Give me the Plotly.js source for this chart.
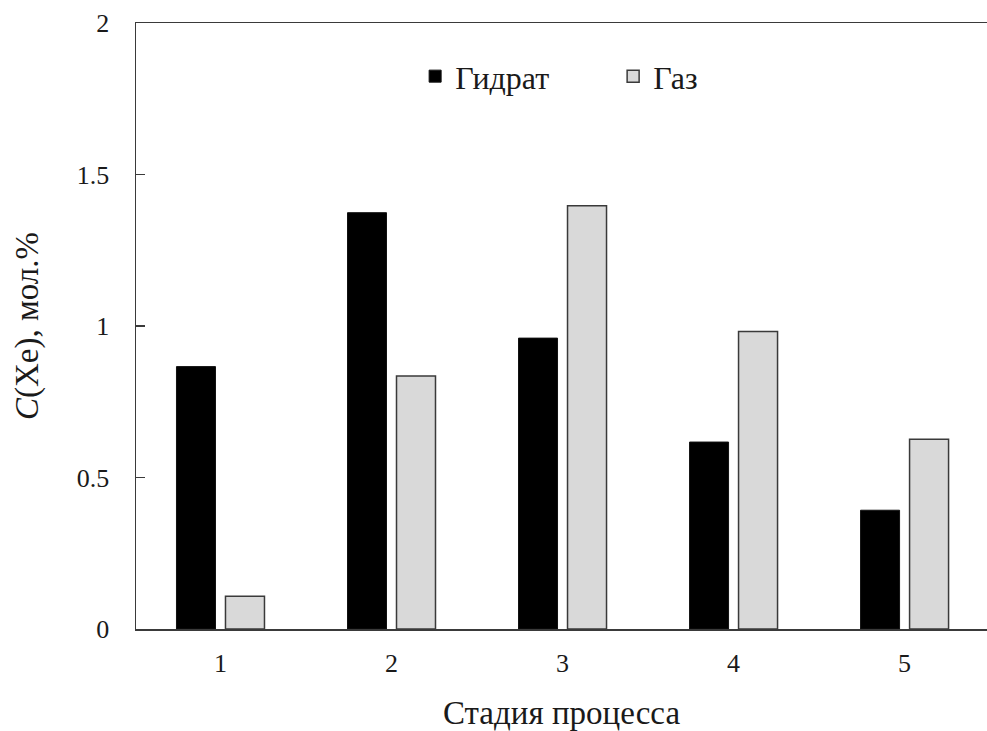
<!DOCTYPE html>
<html>
<head>
<meta charset="utf-8">
<script src="https://cdn.plot.ly/plotly-3.0.1.min.js"></script>
<style>html,body{margin:0;padding:0;background:#fff;overflow:hidden}</style>
</head>
<body>
<div id="chart" style="width:987px;height:731px"></div>
<script>
const categories = ["1", "2", "3", "4", "5"];
const hydrate = [0.866, 1.374, 0.960, 0.617, 0.392];
const gas = [0.108, 0.835, 1.397, 0.982, 0.626];
const seriesNames = ["Гидрат", "Газ"];
const yTicks = [0, 0.5, 1, 1.5, 2];
const yTickText = ["0", "0.5", "1", "1.5", "2"];
const xTitle = "Стадия процесса";
const yTitle = "<i>C</i>(Xe), мол.%";

const font = "Liberation Serif";
const data = [
  {type: "bar", x: categories, y: hydrate, name: seriesNames[0],
   marker: {color: "#000000", line: {color: "#111111", width: 1}}},
  {type: "bar", x: categories, y: gas, name: seriesNames[1],
   marker: {color: "#d9d9d9", line: {color: "#3a3a3a", width: 1.5}}}
];
const layout = {
  width: 987, height: 731,
  margin: {l: 136, r: 0, t: 23, b: 102},
  paper_bgcolor: "#fff", plot_bgcolor: "#fff",
  font: {family: font, color: "#1a1a1a", size: 26},
  barmode: "group", bargap: 0.427, bargroupgap: 0.204,
  showlegend: true,
  legend: {orientation: "h", x: 0.328, xanchor: "left", y: 0.912, yanchor: "middle",
           font: {family: font, size: 32, color: "#1a1a1a"}, bgcolor: "rgba(0,0,0,0)",
           traceorder: "normal", entrywidth: 153},
  xaxis: {type: "category", range: [-0.494, 4.482], showline: true, mirror: true,
          linecolor: "#3a3a3a", linewidth: 1.5, showgrid: false, zeroline: false,
          ticks: "", ticklabelstandoff: 10, tickfont: {family: font, size: 26},
          title: {text: xTitle, font: {family: font, size: 33}, standoff: 24}},
  yaxis: {range: [0, 2], tickvals: yTicks, ticktext: yTickText, showline: true, mirror: false,
          linecolor: "#3a3a3a", linewidth: 1.5, showgrid: false, zeroline: false,
          ticks: "inside", ticklen: 9, tickwidth: 1.5, tickcolor: "#3a3a3a",
          ticklabelstandoff: 20, tickfont: {family: font, size: 26},
          title: {text: yTitle, font: {family: font, size: 33}, standoff: 28}}
};
Plotly.newPlot("chart", data, layout, {displayModeBar: false, staticPlot: true});
</script>
</body>
</html>
